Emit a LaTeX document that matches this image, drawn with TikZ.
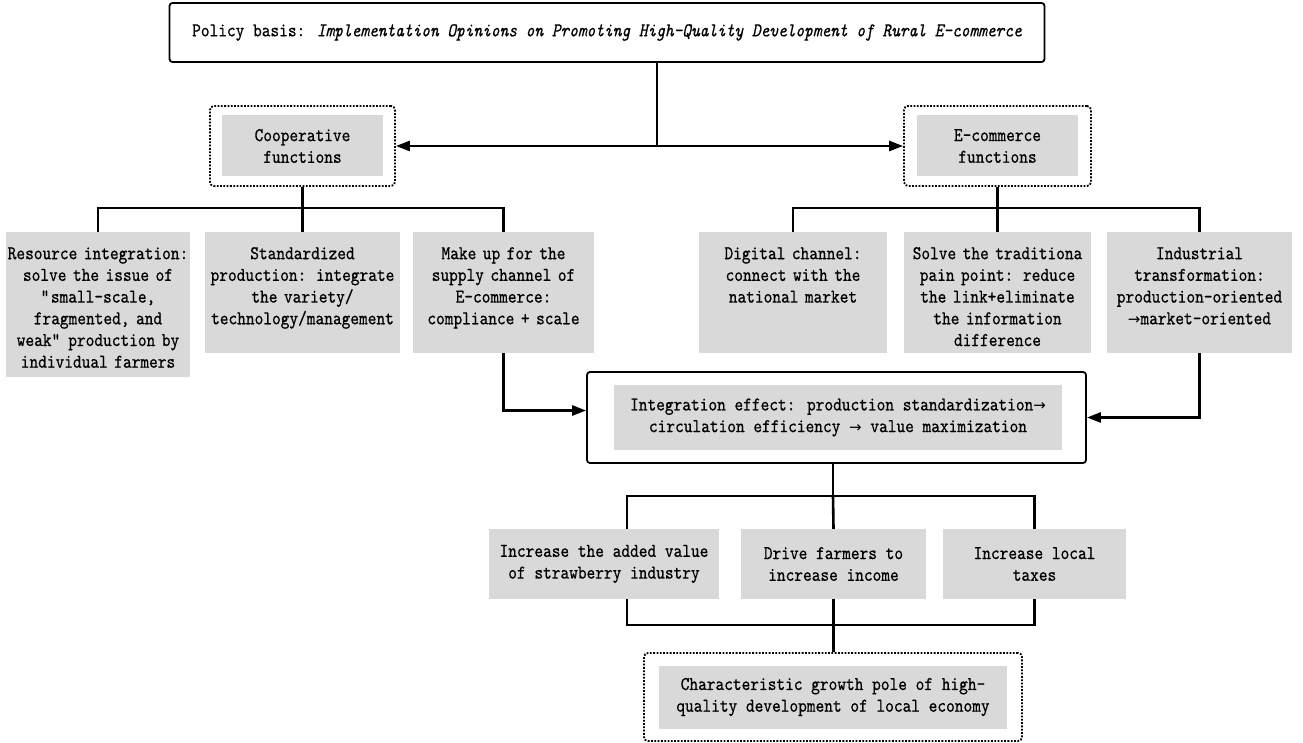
\documentclass[tikz,border=0pt]{standalone}
\usepackage{fontspec}
\setmainfont{lmmono10-regular.otf}[ItalicFont=lmmono10-italic.otf, FakeStretch=0.85, FakeBold=0.6]
\newfontfamily\arrowfont{DejaVu Sans}
\usetikzlibrary{positioning,arrows.meta}
\definecolor{boxgray}{RGB}{217,217,217}
\newcommand{\toarr}{{\arrowfont\fontsize{15}{21.7}\selectfont →}}
\begin{document}
\begin{tikzpicture}[x=1pt, y=-1pt, font=\fontsize{19.5}{21.7}\selectfont,
  tbox/.style 2 args={fill=boxgray, inner sep=0pt, text width=#1, align=center, anchor=north, text height=27pt, text depth=#2},
  cbox/.style 2 args={fill=boxgray, inner sep=0pt, minimum width=#1, minimum height=#2, align=center},
  dbox/.style 2 args={draw, line width=1.8pt, dash pattern=on 1.8pt off 1.5pt, rounded corners=4pt, minimum width=#1, minimum height=#2},
  frame/.style 2 args={draw, line width=1.8pt, rounded corners=3pt, minimum width=#1, minimum height=#2},
  ln/.style={line width=2.6pt},
  ar/.style={line width=2.6pt, -{Triangle[length=14pt, width=10pt]}}]
\useasboundingbox (0,0) rectangle (1303,743);
% policy and the two function groups
\node[frame={875}{59}] (policy) at (607,32.5) {Policy basis: \textit{Implementation Opinions on Promoting High-Quality Development of Rural E-commerce}};
\node[dbox={185}{80}] (coop) at (302.5,146) {};
\node[cbox={161}{61}] (coopin) at (coop.center) {Cooperative\\functions};
\node[dbox={187}{80}] (ecom) at (997.5,146) {};
\node[cbox={161}{61}] (ecomin) at (ecom.center) {E-commerce\\functions};
% function boxes
\node[tbox={184pt}{118pt}] (resint) at (98,232) {Resource integration:\\solve the issue of\\\textquotedbl small-scale,\\fragmented, and\\weak\textquotedbl{} production by\\individual farmers};
\node[tbox={195pt}{94pt}] (stdprod) at (302.5,232) {Standardized\\production: integrate\\the variety/\\technology/management};
\node[tbox={181pt}{94pt}] (supply) at (503.5,232) {Make up for the\\supply channel of\\E-commerce:\\compliance + scale};
\node[tbox={188pt}{94pt}] (digital) at (793,232) {Digital channel:\\connect with the\\national market};
\node[tbox={187pt}{94pt}] (pain) at (997.5,232) {Solve the traditiona\\pain point: reduce\\the link+eliminate\\the information\\difference};
\node[tbox={185pt}{94pt}] (indus) at (1199.5,232) {Industrial\\transformation:\\production-oriented\\\toarr market-oriented};
% integration effect
\node[frame={499}{91}] (effect) at (836.5,417.5) {};
\node[cbox={448}{65}] (effectin) at (838,417.5) {Integration effect: production standardization\toarr\\circulation efficiency \toarr{} value maximization};
% outcomes
\node[cbox={230}{70}] (value) at (604,564) {Increase the added value\\of strawberry industry};
\node[cbox={185}{70}] (income) at (833.5,564) {Drive farmers to\\increase income};
\node[cbox={183}{70}] (taxes) at (1034.5,564) {Increase local\\taxes};
\node[dbox={378}{88}] (pole) at (833,697) {};
\node[cbox={348}{63}] (polein) at (pole.center) {Characteristic growth pole of high-\\quality development of local economy};
% connectors
\coordinate (hub) at (657,146);
\draw[ln] (policy.south -| hub) -- (hub);
\draw[ar] (hub) -- (coop.east);
\draw[ar] (hub) -- (ecom.west);
\coordinate (lbus) at (302.5,208);
\draw[ln] (coop.south) -- (lbus);
\draw[ln] (resint.north) |- (lbus) -| (supply.north);
\draw[ln] (lbus) -- (stdprod.north);
\coordinate (rbus) at (997.5,208);
\draw[ln] (ecom.south) -- (rbus);
\draw[ln] (digital.north) |- (rbus) -| (indus.north);
\draw[ln] (rbus) -- (pain.north);
\draw[ar] (supply.south) |- ([yshift=7pt]effect.west);
\draw[ar] (indus.south) |- (effect.east);
\coordinate (ubus) at (833,496);
\coordinate (ua) at (627,496);
\draw[ln] (effect.south -| ubus) -- (ubus);
\draw[ln] (ua |- value.north) |- (ubus) -| (taxes.north);
\draw[ln] (ubus) -- (income.north);
\coordinate (lbus2) at (833,625);
\draw[ln] (ua |- value.south) |- (lbus2) -| (taxes.south);
\draw[ln] (income.south) -- (income.south |- pole.north);
\end{tikzpicture}
\end{document}
